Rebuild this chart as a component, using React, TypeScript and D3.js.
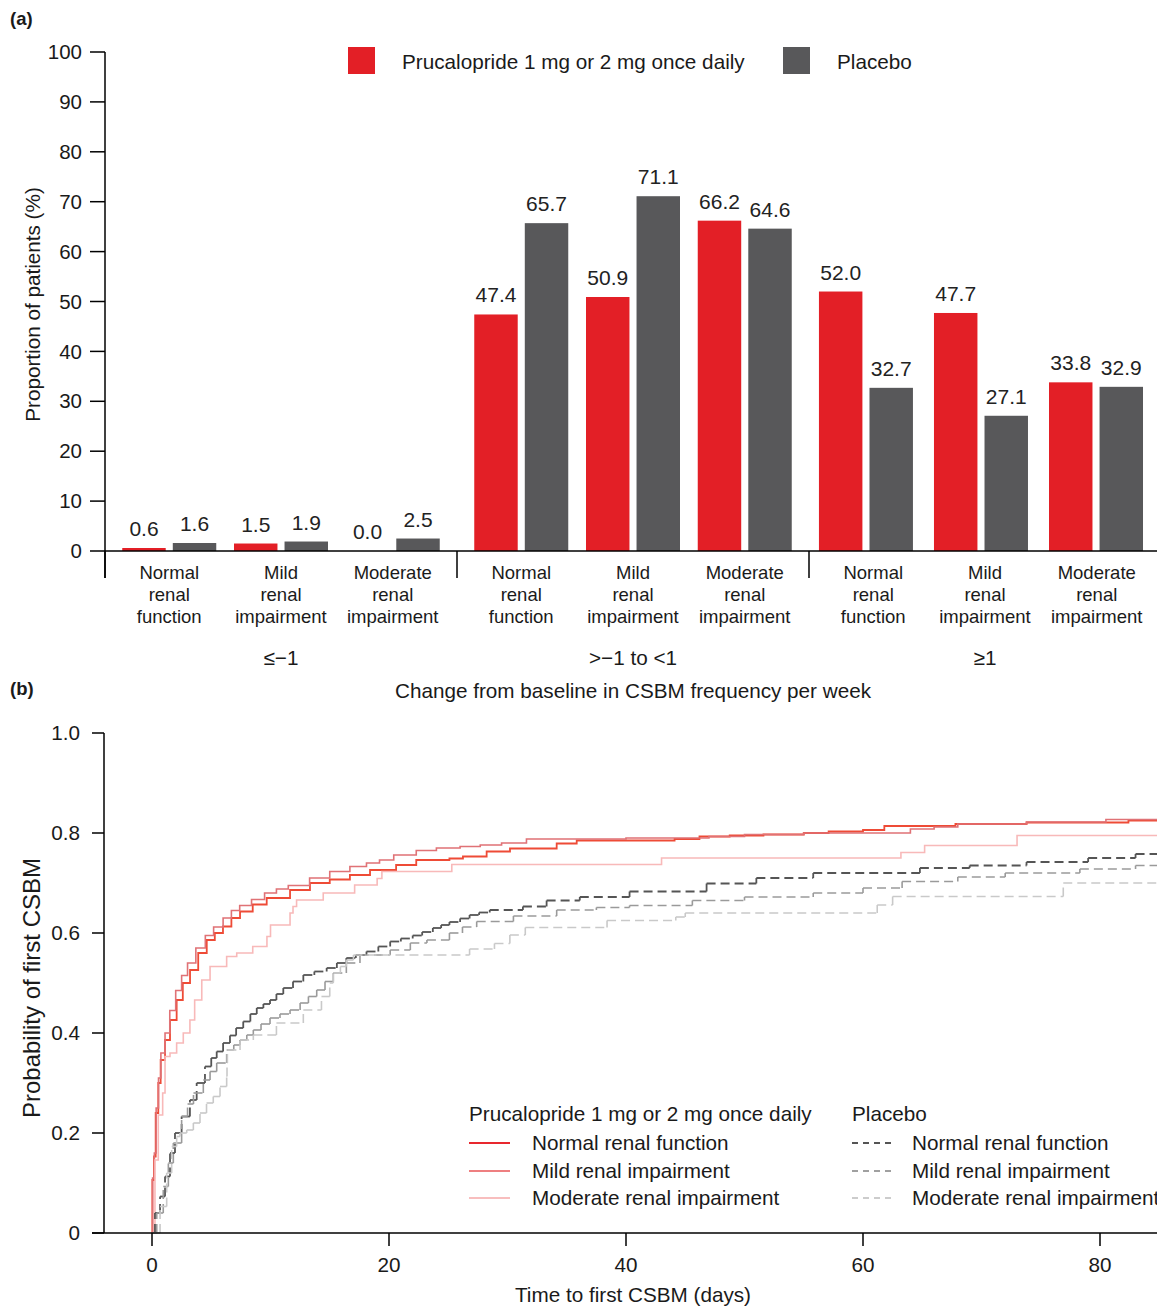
import React from "react";
import * as d3 from "d3";

// ---------- Panel (a) data ----------
const changeGroups = ["≤−1", ">−1 to <1", "≥1"];
const renalGroups = ["Normal renal function", "Mild renal impairment", "Moderate renal impairment"];
const renalLabelLines = [
  ["Normal", "renal", "function"],
  ["Mild", "renal", "impairment"],
  ["Moderate", "renal", "impairment"],
];
const seriesNames = ["Prucalopride 1 mg or 2 mg once daily", "Placebo"];
// order: for each change group, normal / mild / moderate
const prucValues = [0.6, 1.5, 0.0, 47.4, 50.9, 66.2, 52.0, 47.7, 33.8];
const placeboValues = [1.6, 1.9, 2.5, 65.7, 71.1, 64.6, 32.7, 27.1, 32.9];
const yTicksA = [0, 10, 20, 30, 40, 50, 60, 70, 80, 90, 100];

// ---------- Panel (b) data: [day, cumulative probability] step points ----------
const kmPrucNormal = [[0,0],[0.03,0.106],[0.17,0.153],[0.31,0.24],[0.53,0.30],[0.73,0.346],[1.1,0.386],[1.52,0.426],[2.08,0.466],[2.6,0.50],[3.21,0.526],[3.9,0.56],[4.62,0.586],[5.3,0.60],[5.99,0.613],[6.7,0.63],[7.43,0.643],[8.5,0.657],[9.68,0.67],[11.65,0.686],[13.33,0.70],[15.0,0.707],[16.7,0.716],[18.4,0.726],[20.6,0.736],[22.3,0.746],[25.1,0.749],[26.24,0.753],[28.24,0.763],[30.21,0.769],[34.15,0.779],[35.84,0.785],[44.1,0.788],[46.2,0.793],[48.75,0.795],[51.6,0.797],[55,0.80],[57.1,0.803],[60,0.806],[61.8,0.814],[67.8,0.818],[73.8,0.821],[82.4,0.825],[90,0.825]];
const kmPrucMild = [[0,0],[0.05,0.11],[0.2,0.16],[0.35,0.25],[0.55,0.31],[0.75,0.36],[1.1,0.40],[1.5,0.445],[2.0,0.485],[2.5,0.515],[3.0,0.54],[3.7,0.57],[4.5,0.595],[5.2,0.612],[6.0,0.63],[6.7,0.645],[7.4,0.655],[8.4,0.667],[9.5,0.68],[10.5,0.688],[11.5,0.695],[13.3,0.71],[15.0,0.723],[16.7,0.733],[18.1,0.74],[19.2,0.746],[20.4,0.756],[22.3,0.765],[24.0,0.77],[26,0.773],[27.7,0.776],[29.5,0.78],[31.6,0.788],[40,0.79],[47,0.793],[50,0.797],[55,0.80],[64,0.808],[66,0.812],[68,0.818],[73.8,0.822],[80.5,0.827],[90,0.827]];
const kmPrucModerate = [[0,0],[0.25,0.146],[0.53,0.236],[0.9,0.28],[1.1,0.353],[1.52,0.36],[2.08,0.38],[2.64,0.40],[3.2,0.426],[3.6,0.466],[4.2,0.506],[4.9,0.533],[6.3,0.553],[7.15,0.56],[8.5,0.573],[9.7,0.593],[10.0,0.616],[11.65,0.64],[11.9,0.653],[12.2,0.666],[14.45,0.68],[17.1,0.696],[19.0,0.709],[19.4,0.723],[25.3,0.737],[43.0,0.75],[63.2,0.761],[65.2,0.775],[73.0,0.795],[90,0.795]];
const kmPlaceboNormal = [[0,0],[0.25,0.04],[0.68,0.073],[1.1,0.113],[1.52,0.16],[1.94,0.2],[2.5,0.233],[3.2,0.266],[3.77,0.30],[4.47,0.333],[5.0,0.35],[5.46,0.363],[6.0,0.38],[6.58,0.395],[7.1,0.41],[7.7,0.423],[8.3,0.438],[8.84,0.45],[9.4,0.458],[9.96,0.466],[10.5,0.478],[11.08,0.49],[11.9,0.503],[12.77,0.516],[13.7,0.523],[14.74,0.53],[15.6,0.54],[16.4,0.55],[17.2,0.556],[18.1,0.563],[19.1,0.573],[20.1,0.583],[21.0,0.589],[22.0,0.595],[22.8,0.602],[23.7,0.61],[24.4,0.616],[25.1,0.622],[26.0,0.629],[26.8,0.636],[27.6,0.641],[28.5,0.646],[31.3,0.653],[33.3,0.665],[36.1,0.672],[40.3,0.683],[46.8,0.699],[51,0.71],[55.8,0.72],[64.8,0.73],[69,0.735],[73.8,0.742],[79,0.75],[83,0.758],[90,0.761]];
const kmPlaceboMild = [[0,0],[0.4,0.04],[0.95,0.093],[1.38,0.14],[1.8,0.18],[2.5,0.233],[3.0,0.258],[3.5,0.28],[4.33,0.306],[4.9,0.323],[5.46,0.34],[6.3,0.366],[6.9,0.376],[7.43,0.386],[8.0,0.396],[8.55,0.406],[9.2,0.418],[9.96,0.43],[10.8,0.438],[11.65,0.446],[12.5,0.46],[13.2,0.473],[13.9,0.486],[14.6,0.503],[15.3,0.52],[16.4,0.54],[17.55,0.556],[20.1,0.566],[21.8,0.58],[23.2,0.586],[25.1,0.60],[26.2,0.612],[27.4,0.623],[30.5,0.634],[34.15,0.646],[37.5,0.651],[40.3,0.655],[45.6,0.665],[50,0.672],[55.8,0.68],[60,0.69],[63.3,0.703],[68,0.712],[72.0,0.72],[78.3,0.728],[83,0.735],[90,0.735]];
const kmPlaceboModerate = [[0,0],[0.68,0.053],[1.24,0.12],[1.66,0.173],[2.08,0.193],[2.36,0.2],[2.93,0.206],[3.49,0.22],[4.05,0.24],[4.6,0.26],[5.17,0.273],[5.74,0.293],[6.3,0.313],[6.33,0.34],[6.36,0.366],[7.43,0.386],[8.55,0.396],[10.5,0.42],[12.77,0.446],[14.3,0.473],[15.0,0.50],[15.3,0.52],[15.9,0.533],[16.4,0.546],[17.0,0.556],[26.8,0.568],[28.9,0.579],[30.2,0.596],[31.5,0.611],[38.4,0.625],[44.2,0.632],[45.0,0.64],[61.2,0.656],[62.5,0.673],[76.9,0.70],[90,0.70]];
const xTicksB = [0, 20, 40, 60, 80];
const yTicksB = [0, 0.2, 0.4, 0.6, 0.8, 1.0];

const FONT = "'Liberation Sans', Arial, Helvetica, sans-serif";
const RED = "#E31F26";
const GREY = "#58585A";
const TXT = "#1a1a1a";

const kmSeries = [
  { name: "Normal renal function", data: kmPrucNormal, color: "#EE4B36", legend: "#E8282E", dash: null, w: 1.8 },
  { name: "Mild renal impairment", data: kmPrucMild, color: "#E07276", legend: "#EE7F80", dash: null, w: 1.6 },
  { name: "Moderate renal impairment", data: kmPrucModerate, color: "#F8B9B9", legend: "#F8BEBE", dash: null, w: 1.6 },
  { name: "Normal renal function", data: kmPlaceboNormal, color: "#555555", legend: "#555555", dash: "9,5", w: 1.8 },
  { name: "Mild renal impairment", data: kmPlaceboMild, color: "#9A9A9A", legend: "#A0A0A0", dash: "9,5", w: 1.6 },
  { name: "Moderate renal impairment", data: kmPlaceboModerate, color: "#C9C9C9", legend: "#CCCCCC", dash: "9,5", w: 1.6 },
];

export default function App() {
  // ---------- Panel (a) scales ----------
  const yA = d3.scaleLinear().domain([0, 100]).range([551, 52]);
  const xGroup = d3.scaleBand().domain(changeGroups).range([105, 1161]).padding(0);
  const W = xGroup.bandwidth();
  const xRenal = d3.scalePoint().domain(renalGroups).range([0, W]).padding(0.575);
  // the bars of the last group sit on a slightly wider, left-shifted spacing
  const xRenalBarsLast = d3.scalePoint().domain(renalGroups).range([0, W]).padding(0.53).align(0.467);
  const xSeries = d3.scaleBand().domain(seriesNames).range([-47, 47]).paddingInner(0.14).paddingOuter(0);

  const barCells: any[] = [];
  changeGroups.forEach((g, gi) => {
    renalGroups.forEach((r, ri) => {
      const idx = gi * 3 + ri;
      const labelX = (xGroup(g) as number) + (xRenal(r) as number);
      const barX =
        (xGroup(g) as number) + ((gi === changeGroups.length - 1 ? xRenalBarsLast(r) : xRenal(r)) as number);
      barCells.push({ g, r, ri, labelX, barX, values: [prucValues[idx], placeboValues[idx]] });
    });
  });

  // ---------- Panel (b) scales ----------
  const xB = d3.scaleLinear().domain([0, 80]).range([152, 1100]);
  const yB = d3.scaleLinear().domain([0, 1]).range([1233, 733]);
  const line = d3
    .line<number[]>()
    .x((d) => xB(d[0]))
    .y((d) => yB(d[1]))
    .curve(d3.curveStepAfter);

  // step segments drawn one by one so the dash pattern restarts on each step
  const stepSegments = (data: number[][]) => {
    const segs: string[] = [];
    for (let i = 0; i < data.length - 1; i++) {
      const x0 = xB(data[i][0]);
      const x1 = xB(data[i + 1][0]);
      const y0 = yB(data[i][1]);
      const y1 = yB(data[i + 1][1]);
      segs.push(`M${x0},${y0}H${x1}`);
      if (y1 !== y0) segs.push(`M${x1},${y0}V${y1}`);
    }
    return segs;
  };

  const legendRowsY = [1143, 1171, 1198];
  const FS = 20.7;

  return (
    <svg
      width={1157}
      height={1306}
      style={{ position: "absolute", left: 0, top: 0, background: "#fff" }}
      fontFamily={FONT}
    >
      <defs>
        <clipPath id="clipB">
          <rect x={104} y={700} width={1053} height={534} />
        </clipPath>
      </defs>

      {/* ================= Panel (a) ================= */}
      <text x={10} y={25} fontSize={18.5} fontWeight="bold" fill={TXT}>(a)</text>

      {/* legend */}
      {seriesNames.map((s, i) => {
        const lx = i === 0 ? 348 : 783;
        return (
          <g key={s}>
            <rect x={lx} y={47} width={27} height={27} fill={i === 0 ? RED : GREY} />
            <text x={lx + 54} y={69} fontSize={FS} fill={TXT}>{s}</text>
          </g>
        );
      })}

      {/* bars */}
      {barCells.map((c, k) => (
        <g key={k}>
          {c.values.map((v: number, si: number) => {
            const x = c.barX + (xSeries(seriesNames[si]) as number);
            const w = xSeries.bandwidth();
            return (
              <g key={si}>
                <rect x={x} y={yA(v)} width={w} height={yA(0) - yA(v)} fill={si === 0 ? RED : GREY} />
                <text x={x + w / 2} y={yA(v) - 12} fontSize={21} textAnchor="middle" fill="#222">
                  {v.toFixed(1)}
                </text>
              </g>
            );
          })}
          {renalLabelLines[c.ri].map((t, li) => (
            <text key={li} x={c.labelX} y={579 + li * 22} fontSize={18.5} textAnchor="middle" fill={TXT}>
              {t}
            </text>
          ))}
        </g>
      ))}

      {/* y axis (a) */}
      <line x1={105} x2={105} y1={yA(100)} y2={578} stroke="#000" strokeWidth={1.5} />
      {yTicksA.map((t) => (
        <g key={t}>
          <line x1={90} x2={105} y1={yA(t)} y2={yA(t)} stroke="#000" strokeWidth={1.5} />
          <text x={82} y={yA(t)} dy="0.35em" fontSize={20.5} textAnchor="end" fill={TXT}>{t}</text>
        </g>
      ))}
      {/* baseline */}
      <line x1={105} x2={1157} y1={yA(0)} y2={yA(0)} stroke="#000" strokeWidth={1.5} />
      {/* group separators and labels */}
      {changeGroups.map((g) => {
        const x0 = xGroup(g) as number;
        return (
          <g key={g}>
            <line x1={x0} x2={x0} y1={yA(0)} y2={578} stroke="#000" strokeWidth={1.5} />
            <text x={x0 + W / 2} y={665} fontSize={FS} textAnchor="middle" fill={TXT}>{g}</text>
          </g>
        );
      })}
      <text x={633} y={698} fontSize={FS} textAnchor="middle" fill={TXT}>
        Change from baseline in CSBM frequency per week
      </text>
      <text
        transform={`translate(40, ${yA(50) + 3}) rotate(-90)`}
        fontSize={FS}
        textAnchor="middle"
        fill={TXT}
      >
        Proportion of patients (%)
      </text>

      {/* ================= Panel (b) ================= */}
      <text x={10} y={695} fontSize={18.5} fontWeight="bold" fill={TXT}>(b)</text>

      <g clipPath="url(#clipB)">
        {kmSeries.map((s, i) =>
          s.dash ? (
            <g key={i}>
              {stepSegments(s.data).map((d, j) => (
                <path key={j} d={d} fill="none" stroke={s.color} strokeWidth={s.w} strokeDasharray={s.dash as string} />
              ))}
            </g>
          ) : (
            <path key={i} d={line(s.data) as string} fill="none" stroke={s.color} strokeWidth={s.w} />
          )
        )}
      </g>

      {/* axes (b) */}
      <line x1={104} x2={104} y1={yB(1)} y2={yB(0)} stroke="#000" strokeWidth={1.5} />
      {yTicksB.map((t) => (
        <g key={t}>
          <line x1={92} x2={104} y1={yB(t)} y2={yB(t)} stroke="#000" strokeWidth={1.5} />
          <text x={80} y={yB(t)} dy="0.35em" fontSize={FS} textAnchor="end" fill={TXT}>
            {t === 0 ? "0" : t.toFixed(1)}
          </text>
        </g>
      ))}
      <line x1={92} x2={1157} y1={yB(0)} y2={yB(0)} stroke="#000" strokeWidth={1.5} />
      {xTicksB.map((t) => (
        <g key={t}>
          <line x1={xB(t)} x2={xB(t)} y1={yB(0)} y2={yB(0) + 13} stroke="#000" strokeWidth={1.5} />
          <text x={xB(t)} y={1272} fontSize={FS} textAnchor="middle" fill={TXT}>{t}</text>
        </g>
      ))}
      <text x={633} y={1302} fontSize={FS} textAnchor="middle" fill={TXT}>Time to first CSBM (days)</text>
      <text
        transform={`translate(40, ${yB(0.49)}) rotate(-90)`}
        fontSize={24}
        textAnchor="middle"
        fill={TXT}
      >
        Probability of first CSBM
      </text>

      {/* legend (b) */}
      <text x={469} y={1121} fontSize={FS} fill={TXT}>{seriesNames[0]}</text>
      <text x={852} y={1121} fontSize={FS} fill={TXT}>{seriesNames[1]}</text>
      {kmSeries.map((s, i) => {
        const col = i < 3 ? 0 : 1;
        const row = i % 3;
        const lx = col === 0 ? 469 : 852;
        const tx = col === 0 ? 532 : 912;
        const y = legendRowsY[row];
        return (
          <g key={i}>
            <line
              x1={lx}
              x2={lx + 41}
              y1={y}
              y2={y}
              stroke={s.legend}
              strokeWidth={2}
              strokeDasharray={s.dash ? "6,5" : undefined}
            />
            <text x={tx} y={y} dy="0.35em" fontSize={FS} fill={TXT}>{s.name}</text>
          </g>
        );
      })}
    </svg>
  );
}
